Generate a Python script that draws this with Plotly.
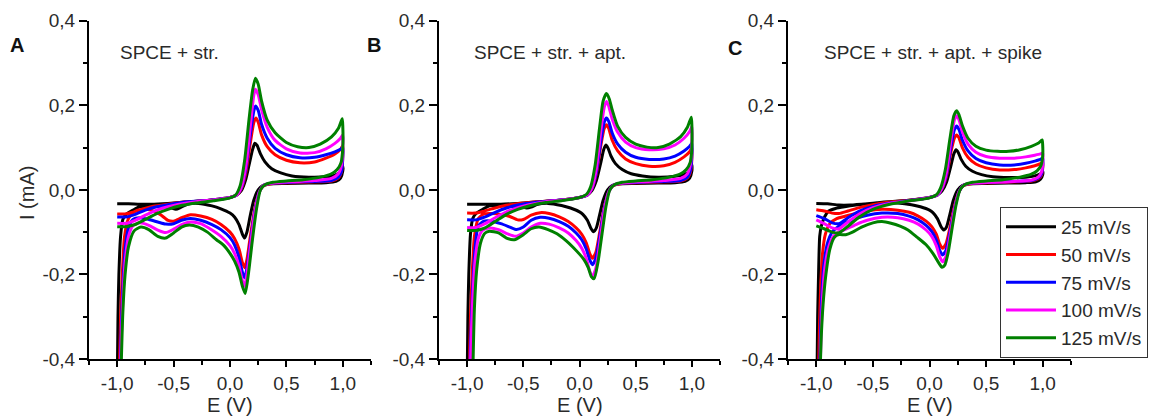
import plotly.graph_objects as go

# ---------------- data ----------------
SERIES = ["25 mV/s", "50 mV/s", "75 mV/s", "100 mV/s", "125 mV/s"]
COLORS = ["#000000", "#ff0000", "#0000ff", "#ff00ff", "#008000"]
PANEL_TITLES = ["SPCE + str.", "SPCE + str. + apt.", "SPCE + str. + apt. + spike"]
PANEL_LETTERS = ["A", "B", "C"]
X_TICKS = [-1.0, -0.5, 0.0, 0.5, 1.0]
X_TICKTEXT = ["-1,0", "-0,5", "0,0", "0,5", "1,0"]
X_MINOR = [-1.25, -0.75, -0.25, 0.25, 0.75, 1.25]
Y_TICKS = [-0.4, -0.2, 0.0, 0.2, 0.4]
Y_TICKTEXT = ["-0,4", "-0,2", "0,0", "0,2", "0,4"]
Y_MINOR = [-0.3, -0.1, 0.1, 0.3]

# ---- Panel A ----
A25_E = [-1.00,-0.90,-0.80,-0.70,-0.55,-0.40,-0.25,-0.10,0.00,0.06,0.10,0.14,0.17,0.20,0.22,0.24,0.27,0.31,0.37,0.45,0.55,0.70,0.85,0.93,0.98,1.00,
         1.00,0.98,0.94,0.85,0.70,0.50,0.35,0.29,0.25,0.21,0.18,0.15,0.13,0.11,0.08,0.04,0.00,-0.08,-0.16,-0.28,-0.38,-0.44,-0.48,-0.53,-0.62,-0.72,-0.80,-0.86,-0.92,-0.95,-0.97,-0.985,-0.993,-0.998]
A25_I = [-0.033,-0.033,-0.034,-0.034,-0.032,-0.029,-0.026,-0.022,-0.018,-0.012,-0.002,0.025,0.060,0.095,0.110,0.105,0.085,0.066,0.050,0.040,0.033,0.030,0.031,0.035,0.043,0.055,
         0.045,0.028,0.020,0.017,0.016,0.015,0.014,0.010,0.000,-0.025,-0.060,-0.100,-0.114,-0.105,-0.082,-0.064,-0.055,-0.045,-0.038,-0.032,-0.034,-0.042,-0.046,-0.042,-0.040,-0.039,-0.040,-0.048,-0.058,-0.070,-0.110,-0.200,-0.300,-0.420]

A50_E = [-1.00,-0.93,-0.86,-0.78,-0.68,-0.55,-0.40,-0.25,-0.10,0.00,0.06,0.10,0.14,0.18,0.21,0.23,0.25,0.28,0.33,0.40,0.50,0.62,0.75,0.85,0.93,0.98,1.00,
         1.00,0.99,0.96,0.90,0.75,0.55,0.38,0.30,0.26,0.22,0.18,0.15,0.13,0.11,0.08,0.04,0.00,-0.08,-0.16,-0.26,-0.35,-0.43,-0.50,-0.55,-0.62,-0.70,-0.78,-0.85,-0.90,-0.935,-0.955,-0.97,-0.98]
A50_I = [-0.057,-0.057,-0.053,-0.046,-0.039,-0.034,-0.029,-0.026,-0.022,-0.018,-0.012,0.002,0.040,0.110,0.158,0.170,0.160,0.130,0.102,0.083,0.070,0.064,0.066,0.075,0.085,0.096,0.105,
         0.080,0.045,0.028,0.021,0.019,0.017,0.015,0.010,-0.005,-0.045,-0.110,-0.165,-0.184,-0.172,-0.140,-0.115,-0.100,-0.082,-0.070,-0.062,-0.059,-0.066,-0.074,-0.072,-0.058,-0.048,-0.046,-0.052,-0.068,-0.110,-0.200,-0.300,-0.420]

A75_E = [-1.00,-0.92,-0.84,-0.75,-0.65,-0.55,-0.40,-0.25,-0.10,0.00,0.06,0.10,0.14,0.18,0.21,0.225,0.25,0.28,0.33,0.40,0.50,0.62,0.75,0.85,0.93,0.98,1.00,
         1.00,0.99,0.96,0.90,0.75,0.55,0.38,0.30,0.26,0.22,0.18,0.15,0.13,0.11,0.08,0.04,0.00,-0.08,-0.16,-0.26,-0.35,-0.43,-0.50,-0.57,-0.64,-0.72,-0.80,-0.86,-0.90,-0.93,-0.95,-0.965,-0.972]
A75_I = [-0.064,-0.064,-0.058,-0.048,-0.040,-0.035,-0.029,-0.026,-0.022,-0.018,-0.012,0.004,0.048,0.130,0.185,0.198,0.188,0.155,0.122,0.098,0.083,0.076,0.077,0.083,0.090,0.096,0.100,
         0.080,0.045,0.030,0.022,0.020,0.018,0.016,0.011,-0.005,-0.050,-0.125,-0.185,-0.208,-0.195,-0.160,-0.130,-0.113,-0.094,-0.082,-0.072,-0.068,-0.072,-0.080,-0.081,-0.076,-0.070,-0.066,-0.070,-0.090,-0.140,-0.230,-0.330,-0.420]

A100_E = [-1.00,-0.92,-0.84,-0.75,-0.65,-0.55,-0.45,-0.30,-0.15,0.00,0.06,0.10,0.14,0.18,0.21,0.225,0.25,0.28,0.33,0.40,0.50,0.62,0.75,0.85,0.93,0.98,1.00,
          1.00,0.99,0.96,0.90,0.75,0.55,0.38,0.30,0.26,0.22,0.18,0.15,0.13,0.11,0.08,0.04,0.00,-0.08,-0.16,-0.26,-0.35,-0.43,-0.50,-0.57,-0.64,-0.72,-0.80,-0.86,-0.90,-0.93,-0.95,-0.965,-0.97]
A100_I = [-0.079,-0.079,-0.072,-0.060,-0.048,-0.040,-0.034,-0.028,-0.024,-0.018,-0.012,0.006,0.055,0.150,0.222,0.238,0.225,0.190,0.148,0.117,0.097,0.087,0.088,0.097,0.110,0.122,0.130,
          0.105,0.060,0.038,0.027,0.022,0.019,0.016,0.011,-0.005,-0.055,-0.135,-0.200,-0.228,-0.215,-0.180,-0.150,-0.132,-0.110,-0.095,-0.080,-0.076,-0.082,-0.093,-0.101,-0.095,-0.084,-0.078,-0.085,-0.110,-0.170,-0.260,-0.360,-0.420]

A125_E = [-1.00,-0.92,-0.84,-0.75,-0.65,-0.55,-0.45,-0.30,-0.15,0.00,0.05,0.09,0.13,0.17,0.20,0.225,0.25,0.28,0.33,0.40,0.50,0.60,0.70,0.80,0.90,0.96,0.995,
          1.00,1.00,0.985,0.95,0.90,0.80,0.65,0.50,0.38,0.31,0.27,0.235,0.20,0.165,0.135,0.11,0.08,0.04,0.00,-0.06,-0.12,-0.20,-0.28,-0.36,-0.43,-0.50,-0.57,-0.64,-0.72,-0.79,-0.85,-0.90,-0.93,-0.95,-0.965]
A125_I = [-0.087,-0.087,-0.082,-0.070,-0.056,-0.046,-0.038,-0.031,-0.026,-0.019,-0.012,0.010,0.070,0.170,0.235,0.264,0.250,0.210,0.165,0.135,0.112,0.102,0.100,0.108,0.125,0.145,0.168,
          0.150,0.100,0.065,0.048,0.038,0.030,0.024,0.021,0.018,0.012,0.000,-0.045,-0.115,-0.195,-0.245,-0.228,-0.195,-0.168,-0.150,-0.130,-0.118,-0.100,-0.088,-0.083,-0.088,-0.102,-0.114,-0.110,-0.094,-0.088,-0.097,-0.135,-0.200,-0.290,-0.420]

# ---- Panel B ----
B25_E = [-1.00,-0.90,-0.80,-0.70,-0.55,-0.40,-0.25,-0.10,0.00,0.07,0.11,0.15,0.19,0.215,0.235,0.255,0.28,0.32,0.38,0.46,0.56,0.70,0.85,0.93,0.98,1.00,
         1.00,0.98,0.94,0.85,0.70,0.50,0.35,0.29,0.25,0.21,0.18,0.15,0.125,0.10,0.07,0.03,0.00,-0.08,-0.16,-0.28,-0.38,-0.43,-0.47,-0.52,-0.62,-0.72,-0.80,-0.86,-0.92,-0.95,-0.97,-0.985,-0.993,-0.998]
B25_I = [-0.034,-0.034,-0.034,-0.034,-0.032,-0.029,-0.026,-0.022,-0.018,-0.012,-0.002,0.022,0.065,0.095,0.106,0.098,0.080,0.062,0.048,0.038,0.033,0.030,0.032,0.036,0.045,0.059,
         0.045,0.028,0.020,0.017,0.016,0.015,0.014,0.010,0.000,-0.025,-0.058,-0.090,-0.099,-0.090,-0.072,-0.058,-0.052,-0.043,-0.037,-0.032,-0.035,-0.041,-0.043,-0.040,-0.038,-0.037,-0.038,-0.046,-0.056,-0.068,-0.105,-0.200,-0.300,-0.420]

B50_E = [-1.00,-0.93,-0.86,-0.78,-0.68,-0.55,-0.40,-0.25,-0.10,0.00,0.07,0.11,0.15,0.19,0.22,0.24,0.26,0.29,0.34,0.41,0.50,0.62,0.75,0.85,0.93,0.98,1.00,
         1.00,0.99,0.96,0.90,0.75,0.55,0.38,0.30,0.26,0.22,0.18,0.145,0.115,0.09,0.06,0.02,-0.03,-0.10,-0.18,-0.27,-0.35,-0.43,-0.50,-0.55,-0.62,-0.70,-0.78,-0.85,-0.90,-0.935,-0.955,-0.97,-0.98]
B50_I = [-0.055,-0.055,-0.051,-0.045,-0.038,-0.033,-0.029,-0.026,-0.022,-0.018,-0.012,0.002,0.038,0.105,0.145,0.154,0.145,0.118,0.092,0.073,0.062,0.056,0.057,0.065,0.078,0.090,0.100,
         0.078,0.045,0.028,0.021,0.019,0.017,0.015,0.010,-0.005,-0.042,-0.100,-0.148,-0.162,-0.150,-0.125,-0.105,-0.090,-0.075,-0.064,-0.056,-0.054,-0.060,-0.070,-0.071,-0.063,-0.058,-0.056,-0.057,-0.068,-0.110,-0.200,-0.300,-0.420]

B75_E = [-1.00,-0.92,-0.84,-0.75,-0.65,-0.55,-0.40,-0.25,-0.10,0.00,0.07,0.11,0.15,0.19,0.22,0.24,0.26,0.29,0.34,0.41,0.50,0.62,0.75,0.85,0.93,0.98,1.00,
         1.00,0.99,0.96,0.90,0.75,0.55,0.38,0.30,0.26,0.22,0.18,0.145,0.115,0.09,0.06,0.02,-0.03,-0.10,-0.18,-0.27,-0.35,-0.43,-0.50,-0.56,-0.62,-0.70,-0.78,-0.85,-0.90,-0.93,-0.95,-0.965,-0.975]
B75_I = [-0.071,-0.071,-0.064,-0.053,-0.043,-0.036,-0.030,-0.026,-0.022,-0.018,-0.012,0.003,0.042,0.115,0.160,0.170,0.162,0.135,0.108,0.089,0.077,0.072,0.073,0.080,0.092,0.103,0.110,
         0.085,0.050,0.030,0.022,0.020,0.018,0.016,0.011,-0.005,-0.045,-0.110,-0.162,-0.177,-0.165,-0.140,-0.118,-0.102,-0.086,-0.075,-0.067,-0.065,-0.072,-0.088,-0.094,-0.088,-0.080,-0.074,-0.074,-0.085,-0.140,-0.230,-0.330,-0.420]

B100_E = [-1.00,-0.92,-0.84,-0.75,-0.65,-0.55,-0.45,-0.30,-0.15,0.00,0.07,0.11,0.15,0.19,0.22,0.24,0.26,0.29,0.34,0.41,0.50,0.62,0.75,0.85,0.93,0.98,1.00,
          1.00,0.99,0.96,0.90,0.75,0.55,0.38,0.30,0.26,0.22,0.18,0.145,0.115,0.09,0.06,0.02,-0.03,-0.10,-0.18,-0.27,-0.35,-0.43,-0.50,-0.57,-0.64,-0.72,-0.80,-0.86,-0.90,-0.93,-0.95,-0.965,-0.97]
B100_I = [-0.089,-0.089,-0.080,-0.066,-0.052,-0.042,-0.035,-0.028,-0.024,-0.018,-0.012,0.004,0.050,0.140,0.195,0.209,0.198,0.168,0.136,0.113,0.100,0.095,0.097,0.106,0.122,0.138,0.150,
          0.120,0.065,0.038,0.027,0.022,0.019,0.016,0.011,-0.005,-0.050,-0.125,-0.186,-0.205,-0.192,-0.162,-0.138,-0.120,-0.102,-0.090,-0.081,-0.079,-0.088,-0.102,-0.110,-0.104,-0.094,-0.090,-0.095,-0.115,-0.170,-0.260,-0.360,-0.420]

B125_E = [-1.00,-0.92,-0.84,-0.75,-0.65,-0.55,-0.45,-0.30,-0.15,0.00,0.06,0.10,0.14,0.18,0.21,0.24,0.265,0.29,0.34,0.41,0.50,0.60,0.70,0.80,0.90,0.96,0.995,
          1.00,1.00,0.985,0.95,0.90,0.80,0.65,0.50,0.38,0.31,0.27,0.235,0.20,0.165,0.13,0.105,0.08,0.04,0.00,-0.06,-0.12,-0.20,-0.28,-0.36,-0.43,-0.50,-0.58,-0.65,-0.72,-0.80,-0.84,-0.88,-0.915,-0.935,-0.948]
B125_I = [-0.096,-0.096,-0.090,-0.075,-0.058,-0.046,-0.038,-0.030,-0.025,-0.018,-0.011,0.008,0.060,0.150,0.210,0.228,0.215,0.190,0.150,0.124,0.108,0.101,0.100,0.108,0.126,0.148,0.172,
          0.150,0.100,0.065,0.048,0.038,0.030,0.024,0.021,0.018,0.012,0.000,-0.040,-0.105,-0.170,-0.210,-0.205,-0.185,-0.165,-0.152,-0.135,-0.120,-0.104,-0.094,-0.088,-0.092,-0.106,-0.118,-0.114,-0.102,-0.098,-0.102,-0.125,-0.190,-0.280,-0.420]

# ---- Panel C ----
C25_E = [-1.00,-0.90,-0.80,-0.70,-0.55,-0.40,-0.25,-0.10,0.00,0.07,0.11,0.15,0.19,0.215,0.235,0.255,0.28,0.32,0.38,0.46,0.56,0.70,0.85,0.93,0.98,1.00,
         1.00,0.98,0.94,0.85,0.70,0.50,0.35,0.29,0.25,0.21,0.18,0.15,0.125,0.10,0.07,0.03,0.00,-0.08,-0.16,-0.28,-0.42,-0.55,-0.65,-0.75,-0.83,-0.89,-0.925,-0.955,-0.97,-0.98,-0.988,-0.993]
C25_I = [-0.032,-0.033,-0.036,-0.036,-0.033,-0.029,-0.026,-0.022,-0.018,-0.012,-0.003,0.018,0.058,0.085,0.095,0.088,0.072,0.056,0.044,0.036,0.031,0.029,0.030,0.033,0.038,0.043,
         0.036,0.025,0.019,0.017,0.016,0.015,0.014,0.010,0.000,-0.025,-0.058,-0.088,-0.095,-0.086,-0.068,-0.054,-0.048,-0.040,-0.035,-0.031,-0.030,-0.033,-0.036,-0.040,-0.044,-0.050,-0.063,-0.085,-0.110,-0.200,-0.300,-0.420]

C50_E = [-1.00,-0.93,-0.86,-0.80,-0.72,-0.62,-0.50,-0.35,-0.20,0.00,0.07,0.11,0.15,0.19,0.22,0.24,0.26,0.29,0.34,0.41,0.50,0.62,0.75,0.85,0.93,0.98,1.00,
         1.00,0.99,0.96,0.90,0.75,0.55,0.38,0.30,0.26,0.22,0.18,0.145,0.115,0.09,0.06,0.02,-0.03,-0.10,-0.18,-0.28,-0.42,-0.55,-0.65,-0.74,-0.82,-0.88,-0.92,-0.945,-0.96,-0.972,-0.98]
C50_I = [-0.047,-0.050,-0.055,-0.056,-0.050,-0.042,-0.035,-0.029,-0.025,-0.018,-0.012,0.002,0.032,0.090,0.122,0.130,0.123,0.100,0.077,0.061,0.052,0.047,0.048,0.052,0.057,0.062,0.065,
         0.050,0.035,0.026,0.021,0.019,0.017,0.015,0.010,-0.005,-0.040,-0.090,-0.128,-0.138,-0.128,-0.105,-0.087,-0.074,-0.062,-0.053,-0.048,-0.046,-0.050,-0.056,-0.062,-0.068,-0.080,-0.105,-0.150,-0.220,-0.320,-0.420]

C75_E = [-1.00,-0.93,-0.86,-0.80,-0.72,-0.62,-0.50,-0.35,-0.20,0.00,0.07,0.11,0.15,0.19,0.22,0.24,0.26,0.29,0.34,0.41,0.50,0.62,0.75,0.85,0.93,0.98,1.00,
         1.00,0.99,0.96,0.90,0.75,0.55,0.38,0.30,0.26,0.22,0.18,0.145,0.115,0.09,0.06,0.02,-0.03,-0.10,-0.18,-0.28,-0.42,-0.55,-0.65,-0.74,-0.81,-0.86,-0.90,-0.93,-0.95,-0.962,-0.97]
C75_I = [-0.061,-0.068,-0.078,-0.080,-0.066,-0.050,-0.039,-0.031,-0.026,-0.018,-0.012,0.003,0.036,0.102,0.142,0.151,0.143,0.118,0.092,0.074,0.064,0.059,0.059,0.063,0.068,0.072,0.075,
         0.055,0.038,0.028,0.022,0.020,0.018,0.016,0.011,-0.005,-0.045,-0.100,-0.143,-0.154,-0.143,-0.118,-0.098,-0.084,-0.071,-0.062,-0.056,-0.055,-0.060,-0.068,-0.078,-0.088,-0.100,-0.125,-0.170,-0.240,-0.330,-0.420]

C100_E = [-1.00,-0.93,-0.86,-0.80,-0.72,-0.62,-0.50,-0.35,-0.20,0.00,0.07,0.11,0.15,0.19,0.22,0.24,0.26,0.29,0.34,0.41,0.50,0.62,0.75,0.85,0.93,0.98,1.00,
          1.00,0.99,0.96,0.90,0.75,0.55,0.38,0.30,0.26,0.22,0.18,0.145,0.115,0.09,0.06,0.02,-0.03,-0.10,-0.18,-0.28,-0.42,-0.55,-0.65,-0.73,-0.80,-0.85,-0.89,-0.925,-0.945,-0.958,-0.966]
C100_I = [-0.071,-0.080,-0.090,-0.092,-0.076,-0.057,-0.042,-0.032,-0.027,-0.018,-0.012,0.004,0.042,0.118,0.165,0.175,0.166,0.138,0.108,0.089,0.079,0.075,0.075,0.078,0.082,0.085,0.087,
          0.062,0.042,0.030,0.023,0.020,0.018,0.016,0.011,-0.005,-0.048,-0.110,-0.158,-0.170,-0.158,-0.132,-0.110,-0.095,-0.081,-0.072,-0.066,-0.065,-0.072,-0.082,-0.092,-0.100,-0.110,-0.135,-0.185,-0.255,-0.345,-0.420]

C125_E = [-1.00,-0.93,-0.86,-0.80,-0.72,-0.62,-0.50,-0.35,-0.20,0.00,0.06,0.10,0.14,0.18,0.215,0.24,0.26,0.29,0.34,0.41,0.50,0.60,0.70,0.80,0.90,0.96,0.995,
          1.00,1.00,0.985,0.95,0.90,0.80,0.65,0.50,0.38,0.31,0.27,0.235,0.20,0.165,0.135,0.11,0.08,0.03,-0.03,-0.11,-0.19,-0.26,-0.34,-0.42,-0.50,-0.60,-0.68,-0.74,-0.80,-0.84,-0.88,-0.915,-0.94,-0.955,-0.965]
C125_I = [-0.085,-0.092,-0.100,-0.102,-0.086,-0.064,-0.046,-0.034,-0.027,-0.019,-0.012,0.006,0.048,0.120,0.175,0.187,0.178,0.152,0.122,0.103,0.094,0.091,0.091,0.095,0.103,0.110,0.118,
          0.105,0.080,0.058,0.045,0.037,0.030,0.024,0.021,0.018,0.012,0.000,-0.035,-0.090,-0.148,-0.178,-0.183,-0.172,-0.150,-0.130,-0.112,-0.095,-0.086,-0.079,-0.075,-0.078,-0.088,-0.100,-0.106,-0.106,-0.112,-0.140,-0.200,-0.270,-0.340,-0.420]

PANELS = [
    [(A25_E, A25_I), (A50_E, A50_I), (A75_E, A75_I), (A100_E, A100_I), (A125_E, A125_I)],
    [(B25_E, B25_I), (B50_E, B50_I), (B75_E, B75_I), (B100_E, B100_I), (B125_E, B125_I)],
    [(C25_E, C25_I), (C50_E, C50_I), (C75_E, C75_I), (C100_E, C100_I), (C125_E, C125_I)],
]

# ---------------- figure ----------------
W, H = 1158, 417
FONT = "Liberation Sans, Arial, sans-serif"
x_domains = [[89 / W, 371 / W], [439 / W, 720 / W], [788 / W, 1071 / W]]
y_domain = [1 - 359 / H, 1 - 20.7 / H]

fig = go.Figure()
for p, panel in enumerate(PANELS):
    xa = "x" if p == 0 else f"x{p + 1}"
    ya = "y" if p == 0 else f"y{p + 1}"
    for s, (E, I) in enumerate(panel):
        assert len(E) == len(I), (p, s, len(E), len(I))
        fig.add_trace(go.Scatter(
            x=E, y=I, mode="lines", xaxis=xa, yaxis=ya,
            name=SERIES[s], legendgroup=SERIES[s], showlegend=(p == 0),
            line=dict(color=COLORS[s], width=3, shape="spline", smoothing=0.6),
        ))

axis_common = dict(
    showgrid=False, zeroline=False, showline=True, linecolor="black", linewidth=2,
    ticks="outside", tickwidth=2, tickcolor="black",
    tickfont=dict(family=FONT, size=19, color="#2a2a2a"),
)
layout = dict(
    width=W, height=H, margin=dict(l=0, r=0, t=0, b=0, autoexpand=False),
    paper_bgcolor="white", plot_bgcolor="white", showlegend=True,
    font=dict(family=FONT, color="#2a2a2a"),
    legend=dict(x=1000 / W, y=1 - 207 / H, xanchor="left", yanchor="top",
                bordercolor="#333", borderwidth=1, bgcolor="white",
                font=dict(family=FONT, size=19, color="#2a2a2a"), itemwidth=50,
                tracegroupgap=0),
)
for p in range(3):
    kx = "xaxis" if p == 0 else f"xaxis{p + 1}"
    ky = "yaxis" if p == 0 else f"yaxis{p + 1}"
    layout[kx] = dict(axis_common, domain=x_domains[p], range=[-1.25, 1.25], ticklen=6,
                      anchor="y" if p == 0 else f"y{p + 1}",
                      tickmode="array", tickvals=X_TICKS, ticktext=X_TICKTEXT,
                      minor=dict(tickmode="array", tickvals=X_MINOR, ticks="outside",
                                 ticklen=4, tickwidth=1.5, tickcolor="black"))
    layout[ky] = dict(axis_common, domain=y_domain, range=[-0.4, 0.4], ticklen=8,
                      anchor="x" if p == 0 else f"x{p + 1}",
                      tickmode="array", tickvals=Y_TICKS, ticktext=Y_TICKTEXT,
                      minor=dict(tickmode="array", tickvals=Y_MINOR, ticks="outside",
                                 ticklen=4, tickwidth=1.5, tickcolor="black"))
fig.update_layout(**layout)

ann = []
letter_pos = [(17, 45), (374, 45), (735, 48)]
title_pos = [(118, 52), (471.7, 53), (821.7, 52)]
for p in range(3):
    ann.append(dict(text=f"<b>{PANEL_LETTERS[p]}</b>", x=letter_pos[p][0] / W, y=1 - letter_pos[p][1] / H,
                    xref="paper", yref="paper", showarrow=False, xanchor="center", yanchor="middle",
                    font=dict(family=FONT, size=20, color="#111")))
    ann.append(dict(text=PANEL_TITLES[p], x=title_pos[p][0] / W, y=1 - title_pos[p][1] / H,
                    xref="paper", yref="paper", showarrow=False, xanchor="left", yanchor="middle",
                    font=dict(family=FONT, size=19, color="#2a2a2a")))
    cx = (x_domains[p][0] + x_domains[p][1]) / 2
    ann.append(dict(text="E (V)", x=cx, y=1 - 405 / H, xref="paper", yref="paper",
                    showarrow=False, xanchor="center", yanchor="middle",
                    font=dict(family=FONT, size=20, color="#2a2a2a")))
ann.append(dict(text="I (mA)", x=27 / W, y=1 - 193 / H, xref="paper", yref="paper",
                showarrow=False, xanchor="center", yanchor="middle", textangle=-90,
                font=dict(family=FONT, size=20, color="#2a2a2a")))
fig.update_layout(annotations=ann)

fig.write_html("out.html", config={"displayModeBar": False},
               post_script="document.body.style.margin='0px';document.body.style.overflow='hidden';")
